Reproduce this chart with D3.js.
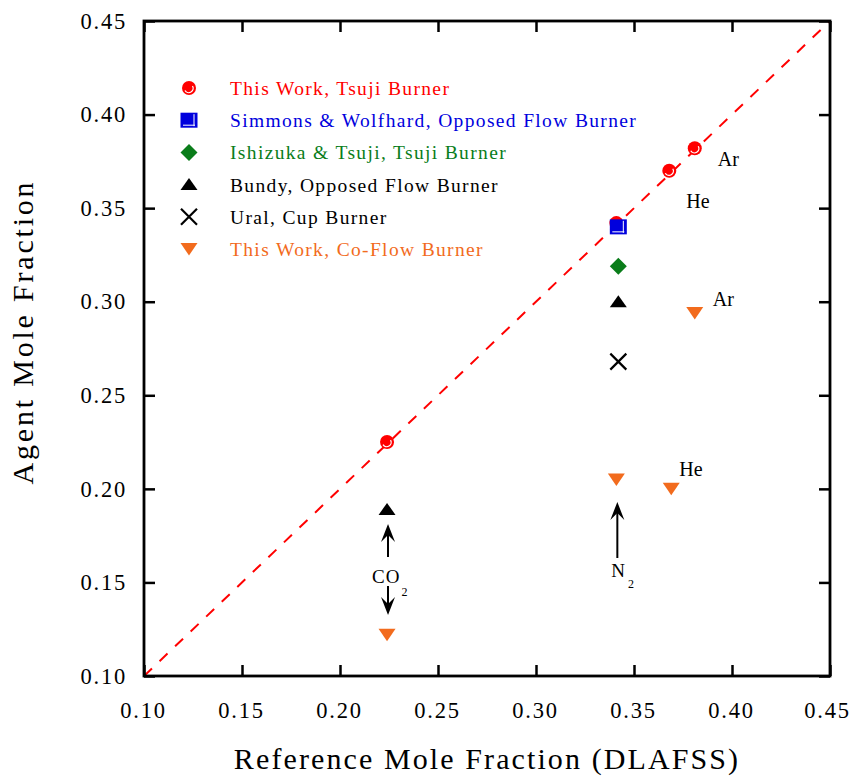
<!DOCTYPE html>
<html><head><meta charset="utf-8">
<script src="https://cdn.jsdelivr.net/npm/d3@7"></script>
<style>body{margin:0;background:#fff}svg{display:block}</style>
</head><body>
<script>
const xTicks = [0.10,0.15,0.20,0.25,0.30,0.35,0.40,0.45];
const yTicks = [0.10,0.15,0.20,0.25,0.30,0.35,0.40,0.45];
const tsujiX = [0.224,0.341,0.368,0.381];
const tsujiY = [0.225,0.342,0.370,0.382];
const simmonsX = [0.342]; const simmonsY = [0.340];
const ishizukaX = [0.342]; const ishizukaY = [0.319];
const bundyX = [0.224,0.342]; const bundyY = [0.189,0.300];
const uralX = [0.342]; const uralY = [0.268];
const coflowX = [0.224,0.341,0.369,0.381]; const coflowY = [0.122,0.205,0.200,0.294];
const legendLabels = ["This Work, Tsuji Burner","Simmons & Wolfhard, Opposed Flow Burner","Ishizuka & Tsuji, Tsuji Burner","Bundy, Opposed Flow Burner","Ural, Cup Burner","This Work, Co-Flow Burner"];
const legendColors = ["#ff0000","#0000dd","#0a7d1a","#000000","#000000","#f26b1d"];
const annotations = [{t:"Ar",x:0.381,y:0.382,dx:23,dy:18},{t:"He",x:0.369,y:0.370,dx:15,dy:37},{t:"Ar",x:0.381,y:0.294,dx:18,dy:-7},{t:"He",x:0.369,y:0.200,dx:8,dy:-13}];

const FONT='"Liberation Serif","Times New Roman",Times,serif';
const W=851,H=776, L=144,R=830,T=21,B=676;
const svg=d3.select("body").append("svg").attr("width",W).attr("height",H);
const x=d3.scaleLinear().domain([0.10,0.45]).range([L,R]);
const y=d3.scaleLinear().domain([0.10,0.45]).range([B,T]);
const fmt=d3.format(".2f");

// diagonal dashed line
svg.append("line").attr("x1",x(0.10)).attr("y1",y(0.10)).attr("x2",x(0.45)).attr("y2",y(0.45))
  .attr("stroke","#ff0000").attr("stroke-width",2).attr("stroke-dasharray","11,10.5");

// axes
const tl=11;
const g1=svg.append("g").attr("transform",`translate(0,${B})`).call(d3.axisBottom(x).tickValues(xTicks).tickFormat(fmt).tickSizeInner(-tl).tickSizeOuter(0).tickPadding(tl+15));
const g2=svg.append("g").attr("transform",`translate(${L},0)`).call(d3.axisLeft(y).tickValues(yTicks).tickFormat(fmt).tickSizeInner(-tl).tickSizeOuter(0).tickPadding(17));
const g3=svg.append("g").attr("transform",`translate(0,${T})`).call(d3.axisTop(x).tickValues(xTicks).tickFormat("").tickSizeInner(-tl).tickSizeOuter(0));
const g4=svg.append("g").attr("transform",`translate(${R},0)`).call(d3.axisRight(y).tickValues(yTicks).tickFormat("").tickSizeInner(-tl).tickSizeOuter(0));
[g1,g2,g3,g4].forEach(g=>{g.attr("font-family",null);g.selectAll("line").attr("stroke","#000").attr("stroke-width",2.5);g.select(".domain").remove();
  g.selectAll("text").style("font-family",FONT).style("font-size","22.5px").attr("fill","#000").style("letter-spacing","1.8px");});
g1.selectAll("text").attr("dx",(d,i,n)=> i===n.length-1 ? "-3px" : "-1px");
svg.append("rect").attr("x",L).attr("y",T).attr("width",R-L).attr("height",B-T).attr("fill","none").attr("stroke","#000").attr("stroke-width",2.8);

// titles
svg.append("text").attr("x",(L+R)/2).attr("y",769).attr("text-anchor","middle").style("font-family",FONT).style("font-size","30px").style("letter-spacing","2.1px").text("Reference Mole Fraction (DLAFSS)");
svg.append("text").attr("transform",`translate(33,332) rotate(-90)`).attr("text-anchor","middle").style("font-family",FONT).style("font-size","30px").style("letter-spacing","2.8px").text("Agent Mole Fraction");

// marker drawers
function sphere(g,cx,cy){g.append("circle").attr("cx",cx).attr("cy",cy).attr("r",7).attr("fill","#ff0000");
  g.append("path").attr("d",`M${cx-4},${cy+2.5} A4.2,4.2 0 0 0 ${cx+3.5},${cy-2}`).attr("fill","none").attr("stroke","#fff").attr("stroke-width",1.3);}
function square(g,cx,cy){g.append("rect").attr("x",cx-8.5).attr("y",cy-7.5).attr("width",17).attr("height",15).attr("fill","#0000dd");
  g.append("line").attr("x1",cx-6).attr("x2",cx+6).attr("y1",cy+5).attr("y2",cy+5).attr("stroke","#fff").attr("stroke-width",1);
  g.append("line").attr("x1",cx+5).attr("x2",cx+5).attr("y1",cy-6).attr("y2",cy+6).attr("stroke","#fff").attr("stroke-width",1);}
function diamond(g,cx,cy){g.append("path").attr("d",`M${cx},${cy-8.5}L${cx+8.5},${cy}L${cx},${cy+8.5}L${cx-8.5},${cy}Z`).attr("fill","#0a7d1a");}
function triUp(g,cx,cy){g.append("path").attr("d",`M${cx},${cy-6.5}L${cx+8.5},${cy+5.5}L${cx-8.5},${cy+5.5}Z`).attr("fill","#000");}
function cross(g,cx,cy){g.append("path").attr("d",`M${cx-8},${cy-8}L${cx+8},${cy+8}M${cx+8},${cy-8}L${cx-8},${cy+8}`).attr("stroke","#000").attr("stroke-width",2.2);}
function triDown(g,cx,cy){g.append("path").attr("d",`M${cx-8.5},${cy-6}L${cx+8.5},${cy-6}L${cx},${cy+6.5}Z`).attr("fill","#f26b1d");}
const drawers=[sphere,square,diamond,triUp,cross,triDown];

const pts=svg.append("g");
coflowX.forEach((v,i)=>triDown(pts,x(v),y(coflowY[i])));
uralX.forEach((v,i)=>cross(pts,x(v),y(uralY[i])));
bundyX.forEach((v,i)=>triUp(pts,x(v),y(bundyY[i])));
ishizukaX.forEach((v,i)=>diamond(pts,x(v),y(ishizukaY[i])));
tsujiX.forEach((v,i)=>sphere(pts,x(v),y(tsujiY[i])));
simmonsX.forEach((v,i)=>square(pts,x(v),y(simmonsY[i])));

// legend
const lg=svg.append("g");
legendLabels.forEach((t,i)=>{const yy=88+i*32.2;
  drawers[i](lg,189,yy);
  lg.append("text").attr("x",230).attr("y",yy+7).style("font-family",FONT).style("font-size","19.5px").attr("fill",legendColors[i]).style("letter-spacing","1.35px").text(t);});

// annotations
annotations.forEach(a=>svg.append("text").attr("x",x(a.x)+a.dx).attr("y",y(a.y)+a.dy).style("font-family",FONT).style("font-size","20px").text(a.t));

// arrows
function arrow(x0,y0,y1){const dir=Math.sign(y1-y0);
  svg.append("line").attr("x1",x0).attr("x2",x0).attr("y1",y0).attr("y2",y1-dir*8).attr("stroke","#000").attr("stroke-width",2);
  svg.append("path").attr("d",`M${x0},${y1}L${x0+7},${y1-dir*18}L${x0},${y1-dir*11}L${x0-7},${y1-dir*18}Z`).attr("fill","#000");}
const cx=x(0.2245), nx=x(0.3415);
arrow(cx,557,524);
arrow(cx,586,615);
arrow(nx,558,502);
const co=svg.append("text").attr("x",cx-16).attr("y",583).style("font-family",FONT).style("font-size","19px").style("letter-spacing","1px");
co.append("tspan").text("CO");
co.append("tspan").attr("dy",13).attr("dx",1).style("font-size","12px").text("2");
const n2=svg.append("text").attr("x",nx-6).attr("y",577).style("font-family",FONT).style("font-size","19px");
n2.append("tspan").text("N");
n2.append("tspan").attr("dy",11).attr("dx",3).style("font-size","12px").text("2");
</script>
</body></html>
